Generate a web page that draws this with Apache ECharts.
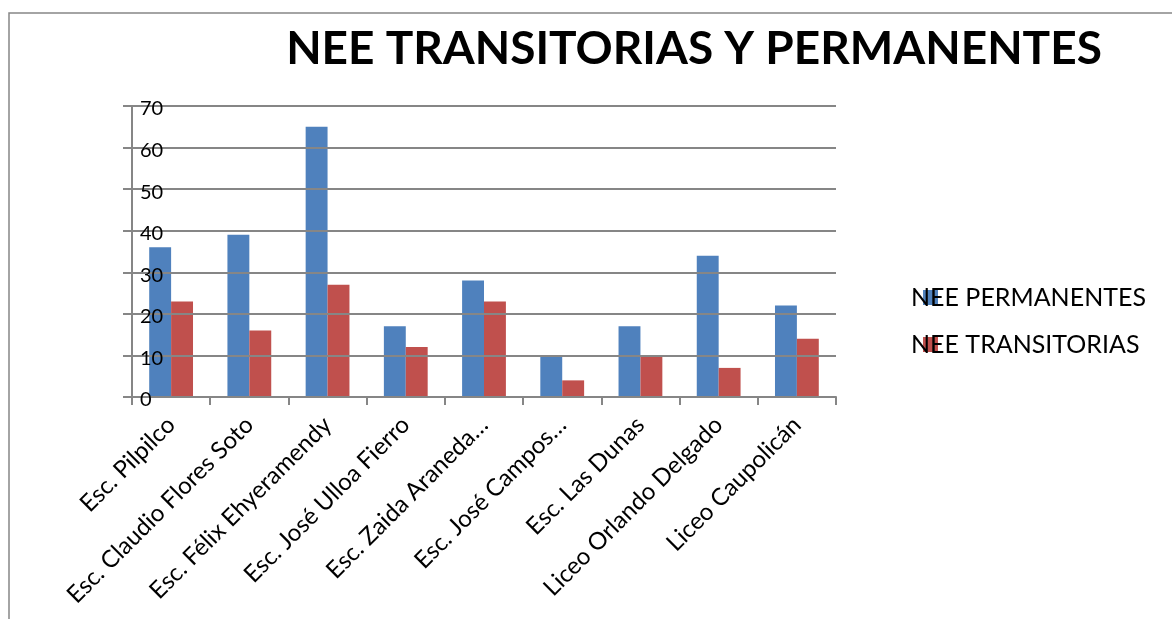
<!DOCTYPE html>
<html>
<head>
<meta charset="utf-8">
<script src="https://cdn.jsdelivr.net/npm/echarts@6/dist/echarts.min.js"></script>
<style>
html,body{margin:0;padding:0;background:#fff;}
#chart{width:1172px;height:619px;}
</style>
</head>
<body>
<div id="chart"></div>
<script>
const titleText = 'NEE TRANSITORIAS Y PERMANENTES';
const categories = ['Esc. Pilpilco','Esc. Claudio Flores Soto','Esc. Félix Ehyeramendy','Esc. José Ulloa Fierro','Esc. Zaida Araneda…','Esc. José Campos…','Esc. Las Dunas','Liceo Orlando Delgado','Liceo Caupolicán'];
const seriesNames = ['NEE PERMANENTES','NEE TRANSITORIAS'];
const permanentes = [36, 39, 65, 17, 28, 10, 17, 34, 22];
const transitorias = [23, 16, 27, 12, 23, 4, 10, 7, 14];
const colors = ['#4F81BD', '#C0504D'];

const chart = echarts.init(document.getElementById('chart'));
const font = 'Lato';
chart.setOption({
  animation: false,
  color: colors,
  title: {
    text: titleText,
    left: 689, top: 21,
    textAlign: 'center',
    textStyle: {fontFamily: font, fontWeight: 'bold', fontSize: 46, color: '#000'}
  },
  graphic: [{
    type: 'rect', shape: {x: 9, y: 13, width: 1300, height: 800},
    style: {fill: null, stroke: '#868686', lineWidth: 1.5}, silent: true
  }],
  legend: {
    orient: 'vertical',
    left: 906, top: 280,
    itemGap: 22,
    itemWidth: 15, itemHeight: 15,
    icon: 'rect',
    data: seriesNames,
    textStyle: {fontFamily: font, fontSize: 25, color: '#000', padding: [0, 0, 0, -32]}
  },
  grid: {left: 132, top: 106, width: 704, height: 291, containLabel: false},
  xAxis: {
    type: 'category',
    data: categories,
    axisLine: {lineStyle: {color: '#868686', width: 2}},
    axisTick: {show: true, length: 8, lineStyle: {color: '#868686', width: 2}},
    axisLabel: {
      rotate: 45, interval: 0, margin: 24,
      fontFamily: font, fontSize: 24, color: '#000'
    }
  },
  yAxis: {
    type: 'value', min: 0, max: 70, interval: 10, z: 10,
    axisLine: {show: true, lineStyle: {color: '#868686', width: 2}},
    axisTick: {show: true, length: 9, lineStyle: {color: '#868686', width: 2}},
    splitLine: {lineStyle: {color: '#868686', width: 2}},
    axisLabel: {inside: true, margin: 8, fontFamily: font, fontSize: 20, color: '#000', verticalAlign: 'top', lineHeight: 6}
  },
  series: [
    {name: seriesNames[0], type: 'bar', data: permanentes, barWidth: '28%', barGap: '0%'},
    {name: seriesNames[1], type: 'bar', data: transitorias, barWidth: '28%', barGap: '0%'}
  ]
});
</script>
</body>
</html>
